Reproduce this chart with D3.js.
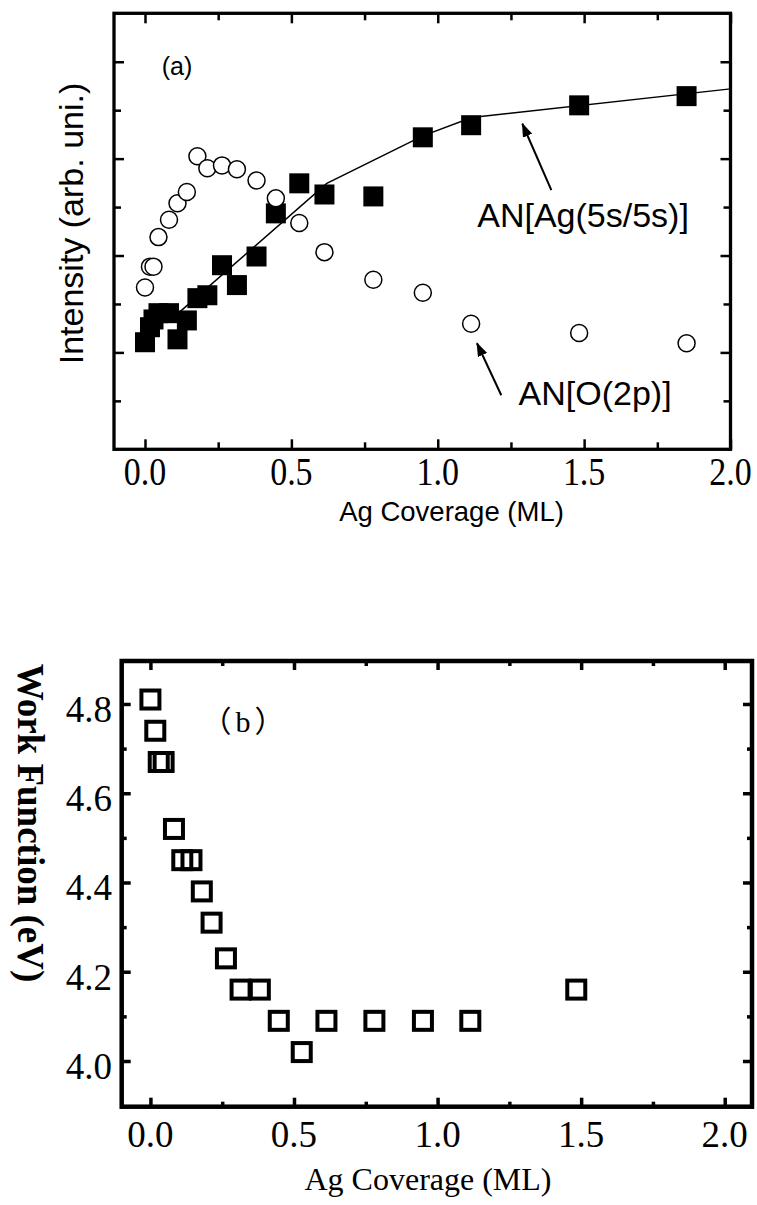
<!DOCTYPE html>
<html>
<head>
<meta charset="utf-8">
<script src="https://cdn.jsdelivr.net/npm/d3@7/dist/d3.min.js"></script>
<style>
body { margin: 0; background: #fff; }
</style>
</head>
<body>
<svg id="chart" width="757" height="1205"></svg>
<script>
// Ag coverage (ML) of each measurement, panel (a)
var coverage = [0.0, 0.017, 0.029, 0.046, 0.082, 0.111, 0.143, 0.179, 0.213, 0.263,
                0.314, 0.381, 0.447, 0.527, 0.613, 0.780, 0.949, 1.114, 1.483, 1.850];
// AN[Ag(5s/5s)] filled squares
var agIntensity = [2.21, 2.52, 2.68, 2.81, 2.81, 2.27, 2.66, 3.12, 3.18, 3.80,
                   3.39, 3.98, 4.87, 5.49, 5.26, 5.22, 6.44, 6.69, 7.10, 7.29];
// AN[O(2p)] open circles
var oIntensity = [3.34, 3.77, 3.77, 4.38, 4.74, 5.08, 5.31, 6.05, 5.80, 5.86,
                  5.78, 5.55, 5.18, 4.67, 4.07, 3.50, 3.23, 2.59, 2.40, 2.19];
// guide line through the Ag points
var fitX = [0.106, 0.621, 0.949, 1.116, 2.0];
var fitY = [2.77, 5.49, 6.47, 6.85, 7.44];

// panel (b)
var wfCoverage = [0.0, 0.017, 0.029, 0.046, 0.082, 0.111, 0.143, 0.179, 0.213, 0.263,
                  0.314, 0.381, 0.447, 0.527, 0.613, 0.780, 0.949, 1.114, 1.483];
var workFunction = [4.81, 4.74, 4.67, 4.67, 4.52, 4.45, 4.45, 4.38, 4.31, 4.23,
                    4.16, 4.16, 4.09, 4.02, 4.09, 4.09, 4.09, 4.09, 4.16];

var xTicks = [0, 0.5, 1.0, 1.5, 2.0];
var xTickLabels = ["0.0", "0.5", "1.0", "1.5", "2.0"];
var xMinor = [0.25, 0.75, 1.25, 1.75];
var yTicksA = [2, 4, 6, 8];
var yMinorA = [1, 3, 5, 7];
var yTicksB = [4.0, 4.2, 4.4, 4.6, 4.8];
var yTickLabelsB = ["4.0", "4.2", "4.4", "4.6", "4.8"];
var yMinorB = [4.1, 4.3, 4.5, 4.7];

var svg = d3.select("#chart");

svg.append("defs").append("marker")
    .attr("id", "head")
    .attr("markerUnits", "userSpaceOnUse")
    .attr("viewBox", "0 0 14 10")
    .attr("markerWidth", 14)
    .attr("markerHeight", 10)
    .attr("refX", 13)
    .attr("refY", 5)
    .attr("orient", "auto")
    .append("path")
    .attr("d", "M0,0 L14,5 L0,10 Z")
    .attr("fill", "black");

// inward ticks on all four sides, drawn with d3 axes
function drawTicks(g, x, y, xMaj, xMin, yMaj, yMin, major, minor, width)
{
    var x0 = x.range()[0], x1 = x.range()[1], y0 = y.range()[0], y1 = y.range()[1];
    var sets = [[xMaj, major], [xMin, minor]];
    sets.forEach(function(s) {
        g.append("g").attr("transform", "translate(0," + y0 + ")")
            .call(d3.axisBottom(x).tickValues(s[0]).tickSize(-s[1]).tickFormat(""));
        g.append("g").attr("transform", "translate(0," + y1 + ")")
            .call(d3.axisTop(x).tickValues(s[0]).tickSize(-s[1]).tickFormat(""));
    });
    [[yMaj, major], [yMin, minor]].forEach(function(s) {
        g.append("g").attr("transform", "translate(" + x0 + ",0)")
            .call(d3.axisLeft(y).tickValues(s[0]).tickSize(-s[1]).tickFormat(""));
        g.append("g").attr("transform", "translate(" + x1 + ",0)")
            .call(d3.axisRight(y).tickValues(s[0]).tickSize(-s[1]).tickFormat(""));
    });
    g.selectAll(".domain").remove();
    g.selectAll(".tick line").attr("stroke", "black").attr("stroke-width", width);
}

// ---------------- panel (a) ----------------
var xA = d3.scaleLinear().domain([-0.1059, 2.0]).range([114, 730.5]);
var yA = d3.scaleLinear().domain([0, 9]).range([449.3, 13.3]);
var pa = svg.append("g");

pa.append("path")
    .datum(fitX.map(function(v, i) { return [v, fitY[i]]; }))
    .attr("d", d3.line().x(function(d) { return xA(d[0]); }).y(function(d) { return yA(d[1]); }))
    .attr("fill", "none")
    .attr("stroke", "black")
    .attr("stroke-width", 1.5);

var sq = 20;
pa.selectAll("rect.ag").data(coverage).enter().append("rect")
    .attr("class", "ag")
    .attr("x", function(d) { return xA(d) - sq / 2; })
    .attr("y", function(d, i) { return yA(agIntensity[i]) - sq / 2; })
    .attr("width", sq)
    .attr("height", sq)
    .attr("fill", "black");

pa.selectAll("circle").data(coverage).enter().append("circle")
    .attr("cx", function(d) { return xA(d); })
    .attr("cy", function(d, i) { return yA(oIntensity[i]); })
    .attr("r", 8.5)
    .attr("fill", "white")
    .attr("stroke", "black")
    .attr("stroke-width", 1.5);

drawTicks(pa, xA, yA, xTicks, xMinor, yTicksA, yMinorA, 10, 7, 2.5);

pa.append("rect")
    .attr("x", xA.range()[0]).attr("y", yA.range()[1])
    .attr("width", xA.range()[1] - xA.range()[0])
    .attr("height", yA.range()[0] - yA.range()[1])
    .attr("fill", "none").attr("stroke", "black").attr("stroke-width", 3.3);

xTicks.forEach(function(v, i) {
    pa.append("text")
        .attr("transform", "translate(" + xA(v) + ",485) scale(1,1.2)")
        .attr("text-anchor", "middle")
        .style("font-family", "Liberation Serif")
        .style("font-size", "34px")
        .text(xTickLabels[i]);
});

pa.append("text")
    .attr("x", 451.5).attr("y", 521)
    .attr("text-anchor", "middle")
    .style("font-family", "Liberation Sans")
    .style("font-size", "27.5px")
    .text("Ag Coverage (ML)");

pa.append("text")
    .attr("transform", "translate(83,223.5) rotate(-90)")
    .attr("text-anchor", "middle")
    .style("font-family", "Liberation Sans")
    .style("font-size", "34px")
    .text("Intensity (arb. uni.)");

pa.append("text")
    .attr("x", xA(0.057)).attr("y", yA(7.72))
    .style("font-family", "Liberation Sans")
    .style("font-size", "25px")
    .text("(a)");

pa.append("text")
    .attr("x", xA(1.135)).attr("y", yA(4.59))
    .style("font-family", "Liberation Sans")
    .style("font-size", "34px")
    .text("AN[Ag(5s/5s)]");

pa.append("text")
    .attr("x", xA(1.276)).attr("y", yA(0.91))
    .style("font-family", "Liberation Sans")
    .style("font-size", "34px")
    .text("AN[O(2p)]");

// arrows: [from x, from y, to x, to y]
var arrows = [[1.388, 5.35, 1.289, 6.72], [1.217, 1.115, 1.134, 2.19]];
arrows.forEach(function(a) {
    pa.append("line")
        .attr("x1", xA(a[0])).attr("y1", yA(a[1]))
        .attr("x2", xA(a[2])).attr("y2", yA(a[3]))
        .attr("stroke", "black")
        .attr("stroke-width", 2)
        .attr("marker-end", "url(#head)");
});

// ---------------- panel (b) ----------------
var xB = d3.scaleLinear().domain([-0.1, 2.095]).range([121.7, 752]);
var yB = d3.scaleLinear().domain([3.8976, 4.8963]).range([1106.7, 661]);
var pb = svg.append("g");

var sqB = 18;
pb.selectAll("rect.wf").data(wfCoverage).enter().append("rect")
    .attr("class", "wf")
    .attr("x", function(d) { return xB(d) - sqB / 2; })
    .attr("y", function(d, i) { return yB(workFunction[i]) - sqB / 2; })
    .attr("width", sqB)
    .attr("height", sqB)
    .attr("fill", "none")
    .attr("stroke", "black")
    .attr("stroke-width", 4);

drawTicks(pb, xB, yB, xTicks, xMinor, yTicksB, yMinorB, 9, 5, 3.5);

pb.append("rect")
    .attr("x", xB.range()[0]).attr("y", yB.range()[1])
    .attr("width", xB.range()[1] - xB.range()[0])
    .attr("height", yB.range()[0] - yB.range()[1])
    .attr("fill", "none").attr("stroke", "black").attr("stroke-width", 4.5);

xTicks.forEach(function(v, i) {
    pb.append("text")
        .attr("x", xB(v)).attr("y", 1147)
        .attr("text-anchor", "middle")
        .style("font-family", "Liberation Serif")
        .style("font-size", "37px")
        .text(xTickLabels[i]);
});

yTicksB.forEach(function(v, i) {
    pb.append("text")
        .attr("x", 112).attr("y", yB(v) + 18)
        .attr("text-anchor", "end")
        .style("font-family", "Liberation Serif")
        .style("font-size", "37px")
        .text(yTickLabelsB[i]);
});

pb.append("text")
    .attr("x", 428).attr("y", 1190)
    .attr("text-anchor", "middle")
    .style("font-family", "Liberation Serif")
    .style("font-size", "32px")
    .text("Ag Coverage (ML)");

pb.append("text")
    .attr("transform", "translate(18.3,823) rotate(90)")
    .attr("text-anchor", "middle")
    .style("font-family", "Liberation Serif")
    .style("font-weight", "bold")
    .style("font-size", "37px")
    .text("Work Function (eV)");

pb.append("text")
    .attr("x", 201.5).attr("y", 732)
    .style("font-family", "Liberation Serif, 'Noto Sans CJK SC'")
    .style("font-size", "30px")
    .style("letter-spacing", "4px")
    .text("（b）");
</script>
</body>
</html>
